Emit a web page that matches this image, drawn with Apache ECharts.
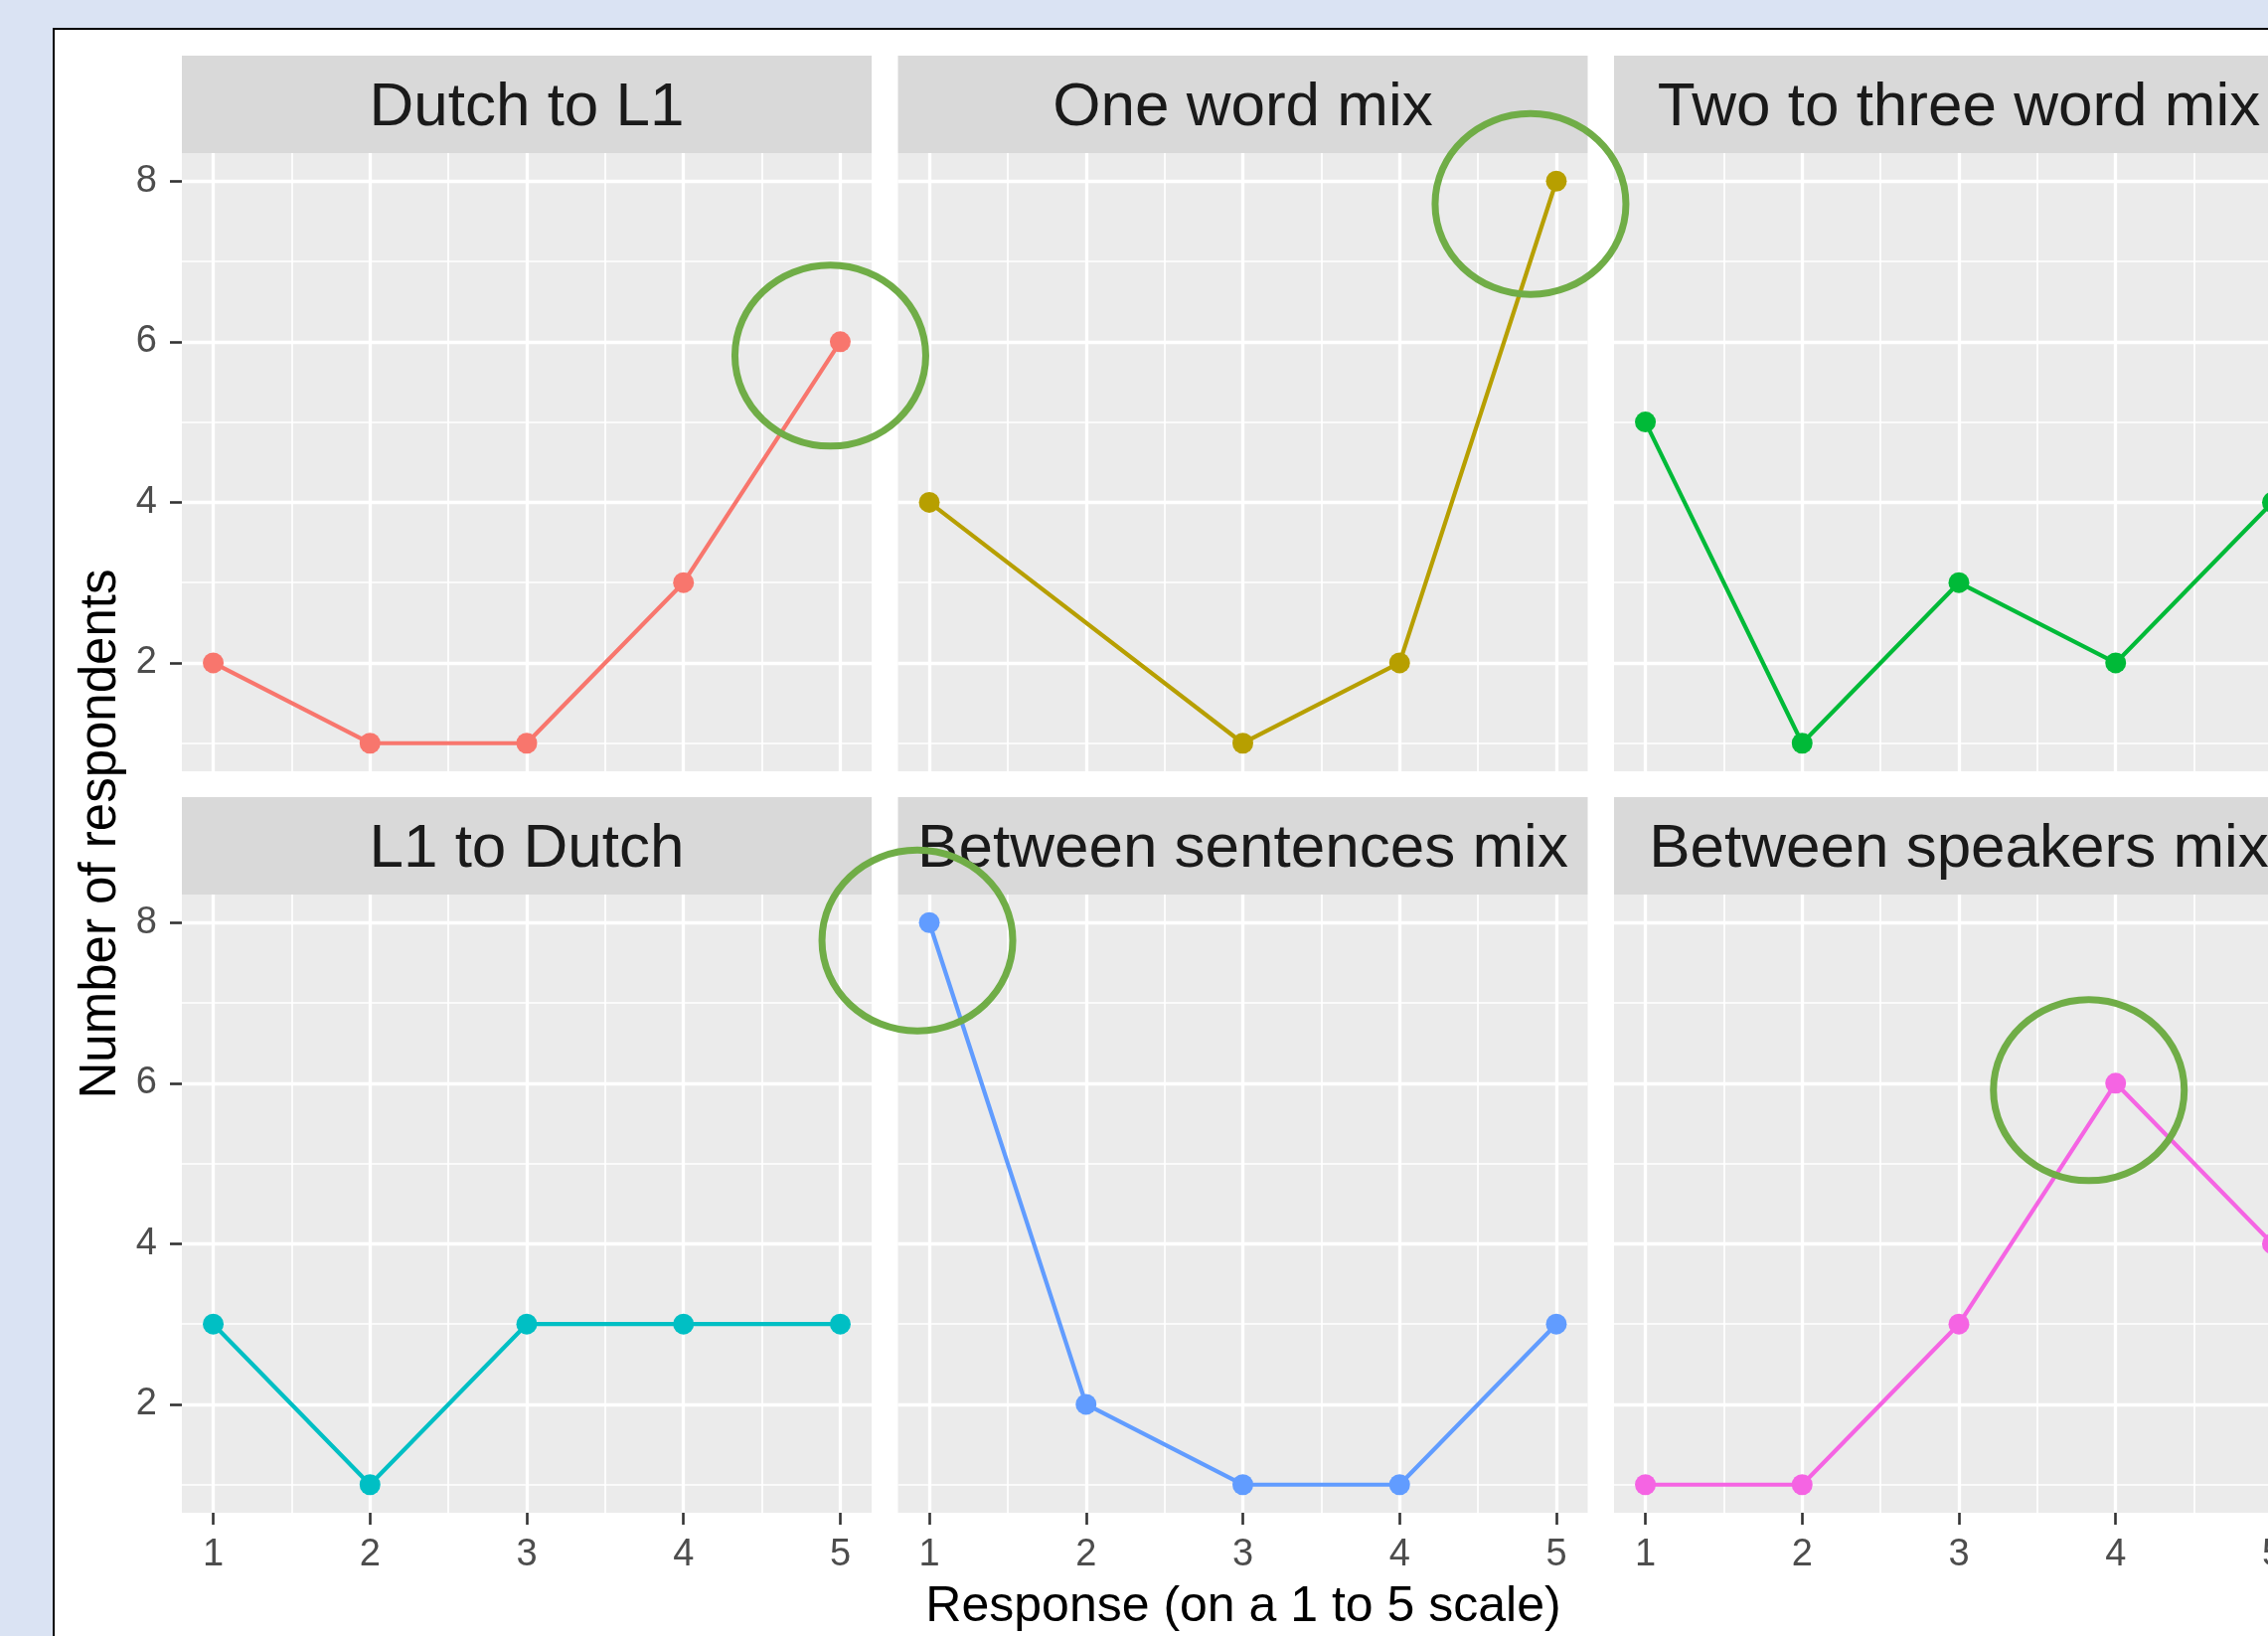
<!DOCTYPE html>
<html>
<head>
<meta charset="utf-8">
<script src="https://cdn.jsdelivr.net/npm/echarts@6/dist/echarts.min.js"></script>
<style>
  html, body { margin: 0; padding: 0; background: #dae3f3; overflow: hidden; }
  #frame {
    position: absolute; left: 53px; top: 28px; width: 2300px; height: 1700px;
    background: #ffffff; border: 2.5px solid #000000; box-sizing: border-box;
  }
  #chart { position: absolute; left: 0; top: 0; width: 2282px; height: 1646px; }
</style>
</head>
<body>
<div id="frame"></div>
<div id="chart"></div>
<script>
// data
const responses = [1, 2, 3, 4, 5];
const facetNames = [
  "Dutch to L1", "One word mix", "Two to three word mix",
  "L1 to Dutch", "Between sentences mix", "Between speakers mix"
];
const dutchToL1 = [2, 1, 1, 3, 6];
const oneWordMix = [4, null, 1, 2, 8];
const twoToThreeWordMix = [5, 1, 3, 2, 4];
const l1ToDutch = [3, 1, 3, 3, 3];
const betweenSentencesMix = [8, 2, 1, 1, 3];
const betweenSpeakersMix = [1, 1, 3, 6, 4];
const facetColors = ["#F8766D", "#B79F00", "#00BA38", "#00BFC4", "#619CFF", "#F564E3"];

const xTicks = [1, 2, 3, 4, 5];
const xMinor = [1.5, 2.5, 3.5, 4.5];
const yTicks = [2, 4, 6, 8];
const yMinor = [1, 3, 5, 7];

// circled points: facet, response, count
const highlights = [
  [0, 5, 6],
  [1, 5, 8],
  [4, 1, 8],
  [5, 4, 6]
];
// hand-drawn circle offsets from the point (px)
const highlightOffsets = [[-10, 14], [-26, 23], [-12, 18], [-27, 7]];

const allCounts = [dutchToL1, oneWordMix, twoToThreeWordMix, l1ToDutch, betweenSentencesMix, betweenSpeakersMix];

const font = '"Liberation Sans", Arial, sans-serif';
const panelLefts = [183, 903.5, 1624];
const rowTops = [154, 900];
const panelW = 694;
const panelH = 622;
const stripH = 98;

const chart = echarts.init(document.getElementById("chart"), null, { renderer: "canvas" });

const grids = [], xAxes = [], yAxes = [], series = [], graphics = [];

facetNames.forEach((name, i) => {
  const col = i % 3;
  const row = Math.floor(i / 3);
  const left = panelLefts[col];
  const top = rowTops[row];

  grids.push({
    left, top, width: panelW, height: panelH,
    show: true, backgroundColor: "#ebebeb", borderWidth: 0,
    containLabel: false, outerBoundsMode: "none"
  });

  [false, true].forEach(minor => {
    const showX = !minor && row === 1;
    xAxes.push({
      type: "value", gridIndex: i, min: 0.8, max: 5.2,
      axisLine: { show: false },
      axisTick: {
        show: showX, customValues: minor ? xMinor : xTicks, length: 12,
        lineStyle: { color: "#333333", width: 2.6 }
      },
      axisLabel: {
        show: showX, customValues: xTicks, margin: 24,
        color: "#4d4d4d", fontSize: 38, fontFamily: font
      },
      splitLine: { show: true, lineStyle: { color: "#ffffff", width: minor ? 1.7 : 3.3 } }
    });
    const showY = !minor && col === 0;
    yAxes.push({
      type: "value", gridIndex: i, min: 0.65, max: 8.35,
      axisLine: { show: false },
      axisTick: {
        show: showY, customValues: minor ? yMinor : yTicks, length: 12,
        lineStyle: { color: "#333333", width: 2.6 }
      },
      axisLabel: {
        show: showY, customValues: yTicks, margin: 25,
        color: "#4d4d4d", fontSize: 38, fontFamily: font
      },
      splitLine: { show: true, lineStyle: { color: "#ffffff", width: minor ? 1.7 : 3.3 } }
    });
  });

  const points = [];
  responses.forEach((r, k) => {
    if (allCounts[i][k] !== null) points.push([r, allCounts[i][k]]);
  });

  series.push({
    type: "line", name, xAxisIndex: i * 2, yAxisIndex: i * 2,
    data: points, symbol: "circle", symbolSize: 21,
    lineStyle: { color: facetColors[i], width: 4.2 },
    itemStyle: { color: facetColors[i] },
    z: 3, clip: false
  });

  // facet strip
  graphics.push({
    type: "rect", z: 1,
    shape: { x: left, y: top - stripH, width: panelW, height: stripH },
    style: { fill: "#d9d9d9" }
  });
  graphics.push({
    type: "text", z: 2,
    x: left + panelW / 2, y: top - stripH / 2 + 4,
    style: {
      text: name, fill: "#1a1a1a", font: "62px " + font,
      align: "center", verticalAlign: "middle",
      textAlign: "center", textVerticalAlign: "middle"
    }
  });
});

graphics.push({
  type: "text", z: 2, x: 1251, y: 1617,
  style: {
    text: "Response (on a 1 to 5 scale)", fill: "#000000", font: "50px " + font,
    align: "center", verticalAlign: "middle", textAlign: "center", textVerticalAlign: "middle"
  }
});
graphics.push({
  type: "text", z: 2, x: 102, y: 839, rotation: Math.PI / 2,
  style: {
    text: "Number of respondents", fill: "#000000", font: "51px " + font,
    align: "center", verticalAlign: "middle", textAlign: "center", textVerticalAlign: "middle"
  }
});

chart.setOption({
  animation: false,
  backgroundColor: "transparent",
  grid: grids,
  xAxis: xAxes,
  yAxis: yAxes,
  series,
  graphic: { elements: graphics }
});

// green hand-drawn circles around the peaks
highlights.forEach((h, k) => {
  const p = chart.convertToPixel({ seriesIndex: h[0] }, [h[1], h[2]]);
  graphics.push({
    type: "ellipse", z: 10,
    shape: { cx: p[0] + highlightOffsets[k][0], cy: p[1] + highlightOffsets[k][1], rx: 96, ry: 91 },
    style: { fill: "none", stroke: "#70ad47", lineWidth: 7 }
  });
});

chart.setOption({ graphic: { elements: graphics } }, { replaceMerge: ["graphic"] });
</script>
</body>
</html>
